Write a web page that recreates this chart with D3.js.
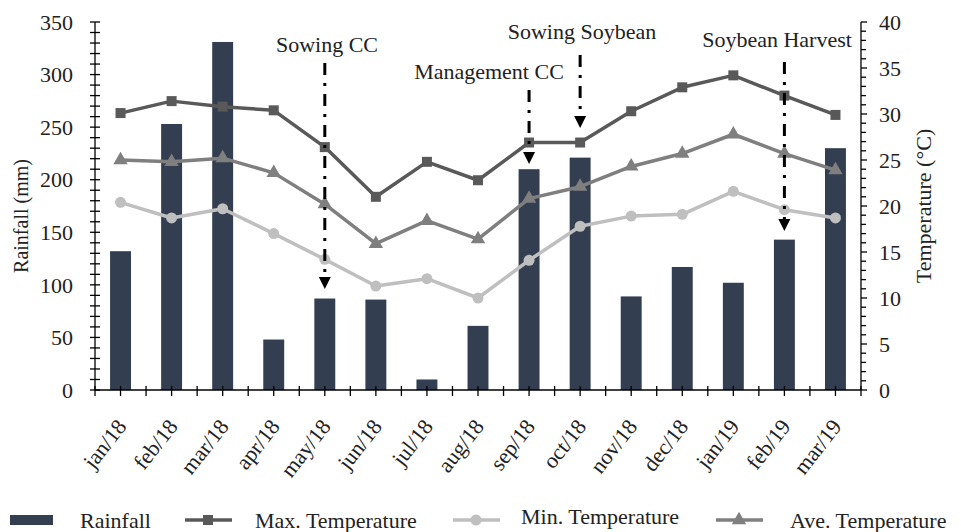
<!DOCTYPE html>
<html>
<head>
<meta charset="utf-8">
<script src="https://cdn.jsdelivr.net/npm/d3@7"></script>
<style>
  html, body { margin: 0; padding: 0; background: #fff; }
</style>
</head>
<body>
<svg id="chart" width="961" height="532"></svg>
<script>
// Monthly categories
const months = ["jan/18","feb/18","mar/18","apr/18","may/18","jun/18","jul/18","aug/18",
                "sep/18","oct/18","nov/18","dec/18","jan/19","feb/19","mar/19"];

// Rainfall (mm)
const rainfall = [132, 253, 331, 48, 87, 86, 10, 61, 210, 221, 89, 117, 102, 143, 230];

// Temperatures (°C)
const maxTemp = [30.1, 31.4, 30.8, 30.4, 26.4, 21.0, 24.8, 22.8, 26.9, 26.9, 30.3, 32.9, 34.2, 32.0, 29.9];
const minTemp = [20.4, 18.7, 19.7, 17.0, 14.2, 11.3, 12.1, 10.0, 14.1, 17.8, 18.9, 19.1, 21.6, 19.6, 18.7];
const aveTemp = [25.0, 24.8, 25.2, 23.6, 20.2, 15.9, 18.4, 16.4, 20.8, 22.1, 24.3, 25.7, 27.8, 25.7, 23.9];

// Axis ticks
const rainTicks = [0, 50, 100, 150, 200, 250, 300, 350];
const tempTicks = [0, 5, 10, 15, 20, 25, 30, 35, 40];

// Field events
const eventLabels = ["Sowing CC", "Management CC", "Sowing Soybean", "Soybean Harvest"];
const eventMonths = ["may/18", "sep/18", "oct/18", "feb/19"];

// Legend entries
const legendLabels = ["Rainfall", "Max. Temperature", "Min. Temperature", "Ave. Temperature"];

const FONT = "'Liberation Serif', 'DejaVu Serif', serif";
const svg = d3.select("#chart").attr("font-family", FONT);
const L = 95, R = 861, T = 22, B = 390;

const x = d3.scaleBand().domain(months).range([L, R]).padding(0);
const bw = x.bandwidth();
const cx = m => x(m) + bw / 2;
const yL = d3.scaleLinear().domain([0, 350]).range([B, T]);
const yR = d3.scaleLinear().domain([0, 40]).range([B, T]);

const colors = { rain: "#333f50", max: "#595959", min: "#bfbfbf", ave: "#7f7f7f" };

// Bars
const barW = bw * 0.41;
svg.append("g").selectAll("rect").data(months).join("rect")
  .attr("x", (m) => cx(m) - barW / 2)
  .attr("y", (m, i) => yL(rainfall[i]))
  .attr("width", barW)
  .attr("height", (m, i) => B - yL(rainfall[i]))
  .attr("fill", colors.rain);

// Temperature lines
const series = [
  { vals: maxTemp, color: colors.max, shape: "square" },
  { vals: aveTemp, color: colors.ave, shape: "triangle" },
  { vals: minTemp, color: colors.min, shape: "circle" }
];
const line = d3.line().x((d, i) => cx(months[i])).y(d => yR(d));
function marker(g, shape, color, px, py) {
  if (shape === "square") {
    g.append("rect").attr("x", px - 5).attr("y", py - 5).attr("width", 10).attr("height", 10).attr("fill", color);
  } else if (shape === "circle") {
    g.append("circle").attr("cx", px).attr("cy", py).attr("r", 5.5).attr("fill", color);
  } else {
    g.append("path").attr("d", d3.symbol(d3.symbolTriangle, 90)()).attr("transform", `translate(${px},${py})`).attr("fill", color);
  }
}
series.forEach(s => {
  const g = svg.append("g");
  g.append("path").datum(s.vals).attr("d", line)
    .attr("fill", "none").attr("stroke", s.color).attr("stroke-width", 3.5).attr("stroke-linejoin", "round");
  s.vals.forEach((v, i) => marker(g, s.shape, s.color, cx(months[i]), yR(v)));
});

// Axes
const axis = svg.append("g").attr("stroke", "#000").attr("stroke-width", 1.3);
axis.append("line").attr("x1", L).attr("x2", L).attr("y1", T).attr("y2", B);
axis.append("line").attr("x1", R).attr("x2", R).attr("y1", T).attr("y2", B);
axis.append("line").attr("x1", L).attr("x2", R).attr("y1", B).attr("y2", B);

// Left axis: crossing ticks every 10 mm
d3.range(0, 351, 10).forEach(v => {
  axis.append("line").attr("x1", L - 5).attr("x2", L + 5).attr("y1", yL(v)).attr("y2", yL(v));
});
// Right axis: outward ticks every 1 °C
d3.range(0, 41, 1).forEach(v => {
  axis.append("line").attr("x1", R).attr("x2", R + (v % 5 === 0 ? 6 : 5)).attr("y1", yR(v)).attr("y2", yR(v));
});
// X axis ticks at band edges and centres
const xTicks = [];
months.forEach(m => { xTicks.push(x(m)); xTicks.push(cx(m)); });
xTicks.push(R);
xTicks.forEach(t => {
  axis.append("line").attr("x1", t).attr("x2", t).attr("y1", B - 4).attr("y2", B + 6);
});

const txt = svg.append("g").attr("fill", "#222").attr("font-size", 22);
txt.selectAll(".yl").data(rainTicks).join("text")
  .attr("x", 73).attr("y", d => yL(d)).attr("dy", "0.35em").attr("text-anchor", "end").text(d => d);
txt.selectAll(".yr").data(tempTicks).join("text")
  .attr("x", 879).attr("y", d => yR(d)).attr("dy", "0.35em").attr("text-anchor", "start").text(d => d);
txt.selectAll(".xl").data(months).join("text")
  .attr("transform", m => `translate(${cx(m) + 1},${422}) rotate(-52)`)
  .attr("text-anchor", "end").attr("dy", "0.35em").text(m => m);

// Axis titles
svg.append("text").attr("transform", "translate(28,216) rotate(-90)")
  .attr("text-anchor", "middle").attr("font-size", 20).attr("fill", "#222").text("Rainfall (mm)");
svg.append("text").attr("transform", "translate(931,206) rotate(-90)")
  .attr("text-anchor", "middle").attr("font-size", 22).attr("fill", "#222").text("Temperature (°C)");

// Event annotations: label position, arrow start and tip
const eventLayout = [
  { tx: 327, ty: 52, y1: 63, y2: 289 },
  { tx: 489, ty: 79, y1: 90, y2: 164 },
  { tx: 582, ty: 39, y1: 55, y2: 128 },
  { tx: 777, ty: 47, y1: 62, y2: 231 }
];
const ann = svg.append("g");
eventLabels.forEach((lab, i) => {
  const lay = eventLayout[i];
  const ax = cx(eventMonths[i]);
  ann.append("text").attr("x", lay.tx).attr("y", lay.ty).attr("text-anchor", "middle")
    .attr("font-size", 22).attr("fill", "#222").text(lab);
  ann.append("line").attr("x1", ax).attr("x2", ax).attr("y1", lay.y1).attr("y2", lay.y2 - 11)
    .attr("stroke", "#000").attr("stroke-width", 3).attr("stroke-dasharray", "12,8,3,8");
  ann.append("path").attr("d", `M${ax - 6},${lay.y2 - 12} L${ax + 6},${lay.y2 - 12} L${ax},${lay.y2} Z`).attr("fill", "#000");
});

// Legend
const lg = svg.append("g");
const ly = 520;
lg.append("rect").attr("x", 10).attr("y", ly - 5).attr("width", 43).attr("height", 10).attr("fill", colors.rain);
lg.append("text").attr("x", 80).attr("y", ly + 8).attr("font-size", 22).attr("fill", "#222").text(legendLabels[0]);
const lgItems = [
  { x0: 185, tx: 255, color: colors.max, shape: "square", dy: 0 },
  { x0: 453, tx: 521, color: colors.min, shape: "circle", dy: -4 },
  { x0: 716, tx: 790, color: colors.ave, shape: "triangle", dy: 0 }
];
lgItems.forEach((it, i) => {
  const g = lg.append("g");
  g.append("line").attr("x1", it.x0).attr("x2", it.x0 + 47).attr("y1", ly).attr("y2", ly)
    .attr("stroke", it.color).attr("stroke-width", 3.5);
  marker(g, it.shape, it.color, it.x0 + 23, ly);
  lg.append("text").attr("x", it.tx).attr("y", ly + 8 + it.dy).attr("font-size", 22).attr("fill", "#222").text(legendLabels[i + 1]);
});
</script>
</body>
</html>
